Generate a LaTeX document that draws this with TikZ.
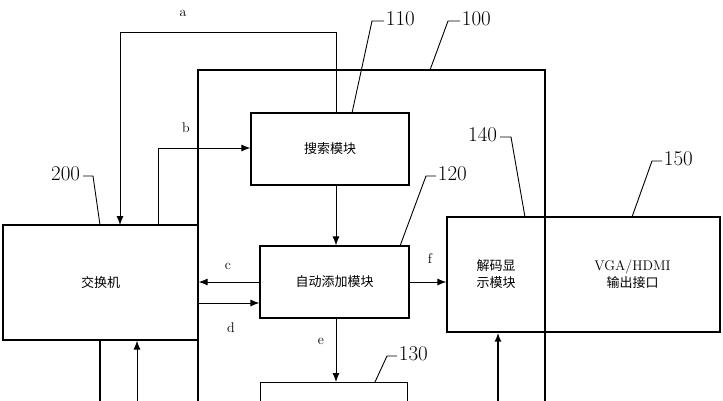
\documentclass[tikz,border=0pt]{standalone}
\usepackage{fontspec}
\newfontfamily\cjk{Noto Sans CJK SC}
\usetikzlibrary{arrows.meta}
\tikzset{
  blk/.style={draw,line width=1.2pt,inner sep=0pt,font=\cjk\fontsize{13}{17}\selectfont},
  lbl/.style={inner sep=0.75pt,font=\fontsize{14}{14}\selectfont},
  refno/.style={inner sep=0.75pt,font=\fontsize{21}{21}\selectfont},
  arr/.style={-{Latex[length=9pt,width=7pt]},line width=1pt},
  lead/.style={line width=0.9pt}
}
\begin{document}
\begin{tikzpicture}[x=1pt,y=1pt,yscale=-1]
\useasboundingbox (0,0) rectangle (723,400);
\begin{scope}
\clip (0,0) rectangle (723,400);
%Outer box 100
\draw [line width=1.2pt] (198,410) -- (198,70) -- (545,70) -- (545,410);
% Blocks
\node [blk,minimum width=195pt,minimum height=115pt] (sw) at (100.5,282.5) {交换机};
\node [blk,minimum width=158pt,minimum height=72pt] (srch) at (330,149) {搜索模块};
\node [blk,minimum width=149pt,minimum height=72pt] (auto) at (334.5,282) {自动添加模块};
\node [blk,minimum width=98pt,minimum height=115pt,align=center] (dec) at (496,274.5) {解码显\\示模块};
\node [blk,minimum width=175pt,minimum height=115pt,align=center,font=\fontsize{14}{17}\selectfont] (vga) at (632.5,274.5) {VGA/HDMI\\{\cjk\fontsize{13}{17}\selectfont 输出接口}};
\node [blk,minimum width=147pt,minimum height=60pt,anchor=north west] (mod) at (260,382) {};
% Connectors
\coordinate (col) at (336,0);
\coordinate (sw110) at (100,410);
\coordinate (sw137) at (137,410);
\coordinate (dec498) at (498,410);
\draw [arr] (srch.north -| col) -- (336,32) -| (120,225);
\draw [arr] (158,225) |- (srch.west |- 0,148);
\draw [arr] (srch.south -| col) -- (auto.north -| col);
\draw [arr] (auto.west) -- (sw.east |- auto.west);
\draw [arr] (sw.east |- 0,303) -- (auto.west |- 0,303);
\draw [arr] (auto.east) -- (dec.west |- auto.east);
\draw [arr] (auto.south -| col) -- (mod.north -| col);
\draw [line width=1.5pt] (sw.south -| sw110) -- (sw110);
\draw [arr] (sw137) -- (sw.south -| sw137);
\draw [arr,line width=2pt] (dec498) -- (dec.south -| dec498);
% Leaders
\draw [lead] (352,113) -- (372,21) -- (384,21);
\draw [lead] (430,70) -- (448,21) -- (460,21);
\draw [lead] (525,217) -- (511,137) -- (500,137);
\draw [lead] (400,246) -- (426,176) -- (436,176);
\draw [lead] (632,217) -- (652,161) -- (662,161);
\draw [lead] (100,225) -- (93,176) -- (83,176);
\draw [lead] (375,382) -- (387,356) -- (397,356);
\end{scope}
% Text Node
\node [lbl] (la) at (183,13) {a};
\node [lbl] (lb) at (186,128) {b};
\node [lbl] (lc) at (228,266) {c};
\node [lbl] (ld) at (231,328) {d};
\node [lbl] (le) at (321,341) {e};
\node [lbl] (lf) at (430,259) {f};
\node [refno,anchor=west] (n110) at (385,19) {110};
\node [refno,anchor=west] (n100) at (461,19) {100};
\node [refno,anchor=east] (n140) at (498,135) {140};
\node [refno,anchor=west] (n120) at (437,174) {120};
\node [refno,anchor=west] (n150) at (663,159) {150};
\node [refno,anchor=east] (n200) at (81,174) {200};
\node [refno,anchor=west] (n130) at (398,354) {130};
\end{tikzpicture}
\end{document}
